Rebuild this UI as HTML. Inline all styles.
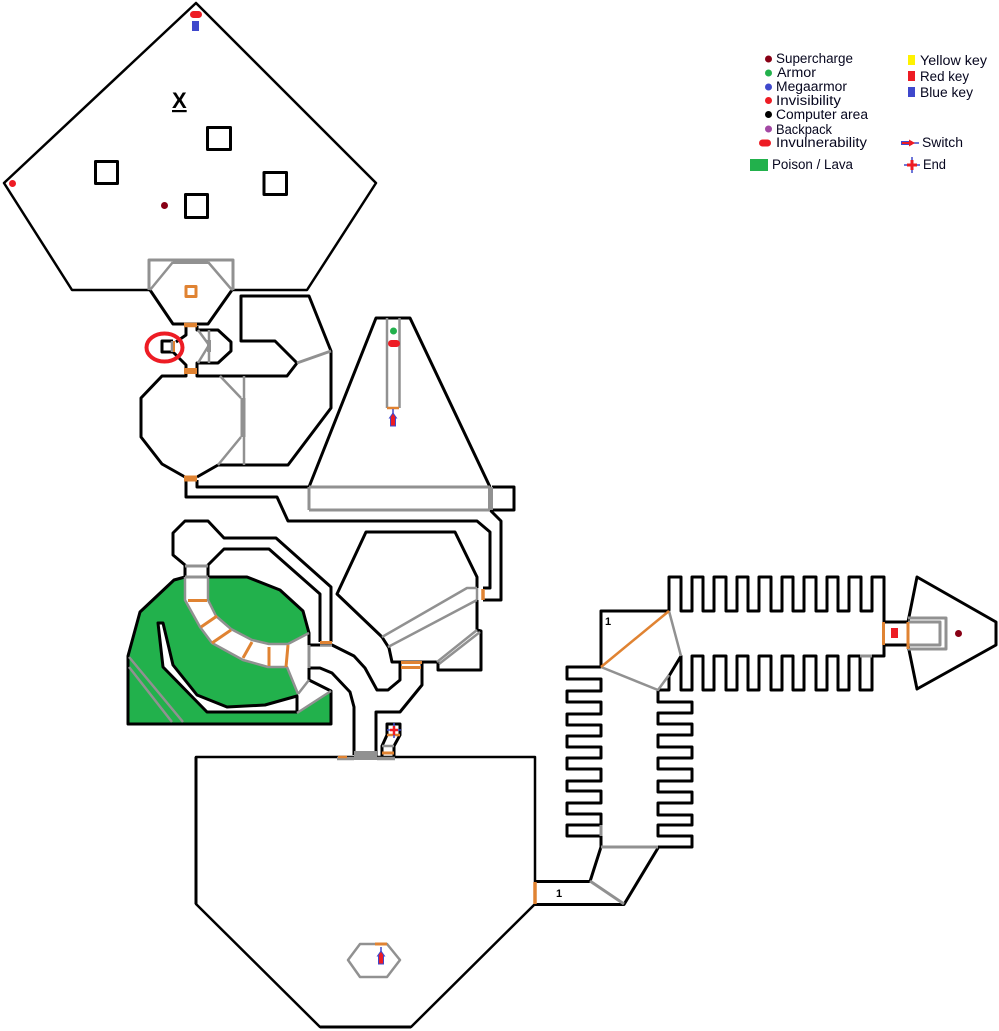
<!DOCTYPE html>
<html><head><meta charset="utf-8"><style>
html,body{margin:0;padding:0;background:#fff;width:999px;height:1031px;overflow:hidden}
svg{display:block}
text{font-family:"Liberation Sans",sans-serif;font-size:13.5px;fill:#06061e}
</style></head><body>
<svg width="999" height="1031" viewBox="0 0 999 1031" xmlns="http://www.w3.org/2000/svg">
<rect width="999" height="1031" fill="#fff"/>
<!-- green area -->
<path d="M128 656L140 612L174 580L185 577H247L280 590L303 611L309 633V680L331 691V724H128Z" fill="#22b14c"/>
<path d="M185 577H208V600L216 616L231 629L252 640L269 644H288L309 633V680L331 691L297 713L298 694L287 667H268L243 660L212 643L200 627L185 600Z" fill="#fff"/>
<path d="M158 623H163L173 665L197 695L227 707L265 705L297 696V712H207L163 667Z" fill="#fff"/>

<g fill="none" stroke="#000" stroke-width="3" stroke-linejoin="round">
<!-- top pentagon -->
<path d="M150 290H72L4 183L196 3L376 183L307 290H233" stroke-width="2.500"/>
<path d="M150 290L173 324H208L232 290"/>
<rect x="207.500" y="127.500" width="23" height="22"/>
<rect x="95.500" y="161.500" width="22" height="22"/>
<rect x="264" y="172.500" width="22.500" height="22"/>
<rect x="185.500" y="194.500" width="22" height="23"/>
<!-- junction + octagon -->
<path d="M186 326V335L176 342M173 341H162V352H173L186 365V376H162L141 398V437L162 464L185 477"/>
<path d="M197 326V330H218L231 342V351L218 363H197V376H287L297 363L275 341H241V296H309L331 351V408L288 465H218L197 477"/>
<!-- corridors from octagon -->
<path d="M186 480V497H277L288 521H477L490 532V588H483"/>
<path d="M197 480V487H309"/>
<path d="M309 487L376 318H410L490 487"/>
<path d="M492 487H514V510H490L501 521V600H483"/>
<!-- mid room -->
<path d="M477 588V577L455 532H366L337 594L382 637L389 648L392 662H400V680L388 690H377L365 668L354 656L332 645H309"/>
<path d="M477 600V630L481 631V670H438V662H400M422 662V685L400 712H376V757"/>
<!-- upper-left small room & pipes -->
<path d="M185 578V565L173 555V533L185 521H208L224 538H276L331 587V642"/>
<path d="M208 578V565L224 549H269L320 594V642"/>
<!-- green outline -->
<path d="M185 577L174 580L140 612L128 656V724H331V691L309 680V668M208 577H247L280 590L303 611L309 633V645"/>
<path d="M309 668H320L332 673L350 692L354 707V755"/>
<path d="M158 623H163L173 665L197 695L227 707L265 705L297 696V712H207L163 667Z"/>
<!-- small end room -->
<path d="M387 735V724H400V735L394 746V757M387 735L382 746V757"/>
<!-- big room -->
<path d="M196 757V904L320 1027H411L535 904V757Z" stroke-width="2.500"/>
<path d="M196 757V904" stroke-width="3"/>
<path d="M320 1027H411" stroke-width="3"/>
<path d="M535 881.500H590L601 847M535 904.500H624L658 848"/>
<!-- left comb -->
<path d="M601 667V611H669M601 667H567V679H601V691H567V702H601V714H567V725H601V736H567V747H601V758H567V769H601V781H567V791H601V803H567V814H601V825H567V836H601M601 836V847"/>
<!-- right comb -->
<path d="M658 690V702H692V713H658V724H692V735H658V747H692V758H658V769H692V781H658V792H692V803H658V815H692V825H658V836H692V847H658"/>
<!-- top comb -->
<path d="M669 611V577H681V611H692V577H703V611H714V577H726V611H737V577H748V611H759V577H771V611H782V577H793V611H804V577H816V611H827V577H838V611H849V577H861V611H872V577H884V622H908"/>
<!-- lower comb -->
<path d="M658 690H669V675M669 676L681 656V690H692V656H703V690H714V656H726V690H737V656H748V690H759V656H771V690H782V656H793V690H804V656H816V690H827V656H838V690H849V656H860V690H872V656M872 656H884V645H908"/>
<!-- arrow room -->
<path d="M908 622L917 577L996 622V645L917 689L908 645"/>
</g>

<g fill="none" stroke="#919191" stroke-width="2.500" stroke-linejoin="round">
<path d="M129 657L183 722M129 667L172 722"/>
<!-- top hex door -->
<path d="M149 290V260H233V290" stroke-width="3"/>
<path d="M173 262L150 290M208 262L232 290"/>
<path d="M173 261.500H208" stroke-width="5"/>
<!-- junction -->
<path d="M198 330L209 345L198 363M209 330V363"/>
<path d="M209 340V352" stroke-width="4"/>
<path d="M172 341V352"/>
<path d="M297 363L331 351" stroke-width="3"/>
<path d="M220 376L241 398M241 437L218 465"/>
<path d="M244 376V465"/>
<path d="M243 398V437" stroke-width="5"/>
<!-- triangle room -->
<path d="M387 318V408M399.500 318V408"/>
<path d="M309 487H490M309 510H490M309 487V510" stroke-width="3"/>
<path d="M490.500 487V510" stroke-width="5"/>
<!-- mid room -->
<path d="M382 637L467 588H477M388 647L477 600M477 588V600"/>
<path d="M437 662L477 630M439 664L480 632"/>
<!-- corridor -->
<path d="M185 566H208M185 577H208" stroke-width="3"/>
<path d="M185 577V600L200 627L212 643L243 660L268 667H287L298 694M208 577V600L216 616L231 629L252 640L269 644H288L309 633"/>
<path d="M309 645V668" stroke-width="3"/>
<path d="M298 694L309 680M331 691L297 713"/>
<path d="M320 645.500H332" stroke-width="2.500"/>
<!-- lower doors -->
<path d="M337 758.500H354M377 758.500H395" stroke-width="3.500"/>
<path d="M382 746H394"/>
<rect x="354" y="751" width="23" height="9" fill="#919191" stroke="none"/>
<!-- right rooms -->
<path d="M590 881L624 904M601 847H658" stroke-width="3"/>
<path d="M601 825V836" stroke-width="3"/>
<path d="M601 667L658 690L669 675M669 611L681 656"/>
<path d="M860 656H872" stroke-width="3"/>
<path d="M908 618H946V649H908M908 622H940V645H908" stroke-width="3"/>
<!-- hex -->
<path d="M348 960L360 944H387L400 960L387 977H360Z"/>
</g>

<!-- orange -->
<g fill="none" stroke="#e08332" stroke-width="3" stroke-linejoin="round">
<rect x="186" y="286.500" width="10" height="10"/>
<path d="M184 325H197" stroke-width="4.500"/>
<path d="M184 371H197" stroke-width="6"/>
<path d="M184 478.500H197" stroke-width="6"/>
<path d="M174 341V352" stroke-width="2"/>
<path d="M387 408H399" stroke-width="2.500"/>
<path d="M483 589V600" stroke-width="3.500"/>
<path d="M188 600.500H207"/>
<path d="M201 627L217 616M212 643L231 630M243 658L252 642"/>
<path d="M269 647V666M288 645L286 667"/>
<path d="M320 642.500H332"/>
<path d="M401 662.500H422M401 667.500H421"/>
<path d="M338 757H347" stroke-width="2.500"/>
<path d="M382 753H394"/>
<path d="M387 735H400" stroke-width="2.500"/>
<path d="M535 882V904" stroke-width="3.500"/>
<path d="M601 667L669 611" stroke-width="2.500"/>
<path d="M883.500 622V645M908 622V649" stroke-width="3"/>
<path d="M375 944H387" stroke-width="3"/>
</g>

<!-- items -->
<ellipse cx="164.500" cy="347.500" rx="18" ry="14" fill="none" stroke="#ed1c24" stroke-width="4"/>
<rect x="190" y="11" width="12" height="7" rx="3.500" fill="#ed1c24"/>
<rect x="192" y="21" width="7" height="10" fill="#3f48cc"/>
<circle cx="12.500" cy="183.500" r="3.500" fill="#ed1c24"/>
<circle cx="164.500" cy="205.500" r="3.500" fill="#880015"/>
<circle cx="393.500" cy="331" r="3.500" fill="#22b14c"/>
<rect x="388" y="340" width="12" height="7" rx="3.500" fill="#ed1c24"/>
<rect x="891" y="628" width="7" height="10" fill="#ed1c24"/>
<circle cx="958.500" cy="633.500" r="3.500" fill="#880015"/>

<!-- switches -->
<g>
<path d="M393 409V416M381 947V954" stroke="#3f48cc" stroke-width="1.500"/>
<path d="M393 413L396.500 418H395.500V426H390.500V418H389.500Z" fill="#ed1c24" stroke="#3f48cc"/>
<path d="M381 951L384.500 956H383.500V964H378.500V956H377.500Z" fill="#ed1c24" stroke="#3f48cc"/>
<path d="M901 143H912" stroke="#3f48cc" stroke-width="4"/>
<path d="M912 143H919" stroke="#3f48cc" stroke-width="1.500"/>
<path d="M902 143H912" stroke="#ed1c24" stroke-width="2"/>
<path d="M909 139.500L915 143L909 146.500Z" fill="#ed1c24"/>
</g>

<!-- end markers -->
<g>
<path d="M394 723V738M387 730H401" stroke="#3f48cc" stroke-width="1.500"/>
<path d="M394 726V735M390 730H398" stroke="#ed1c24" stroke-width="2.500"/>
<path d="M912 157V173M904 165H920" stroke="#3f48cc" stroke-width="1.500"/>
<path d="M912 160V170M907 165H917" stroke="#ed1c24" stroke-width="3"/>
</g>

<!-- labels -->
<text x="172" y="108" style="font-size:22px;font-weight:bold;fill:#000;text-decoration:underline">X</text>
<text x="605" y="625" style="font-size:11px;font-weight:bold;fill:#000">1</text>
<text x="556" y="897" style="font-size:11px;font-weight:bold;fill:#000">1</text>

<!-- legend -->
<circle cx="768.500" cy="59" r="3.500" fill="#880015"/>
<circle cx="768.500" cy="73" r="3.500" fill="#22b14c"/>
<circle cx="768.500" cy="87" r="3.500" fill="#3f48cc"/>
<circle cx="768.500" cy="100.500" r="3.500" fill="#ed1c24"/>
<circle cx="768.500" cy="114.500" r="3.500" fill="#000"/>
<circle cx="768.500" cy="129" r="3.500" fill="#a349a4"/>
<rect x="759" y="139.500" width="12" height="7" rx="3.500" fill="#ed1c24"/>
<rect x="750" y="159" width="18" height="12" fill="#22b14c"/>
<rect x="908" y="55" width="7" height="10" fill="#fff200"/>
<rect x="908" y="71" width="7" height="10" fill="#ed1c24"/>
<rect x="908" y="87" width="7" height="10" fill="#3f48cc"/>
<text x="776" y="63" textLength="77" lengthAdjust="spacingAndGlyphs">Supercharge</text>
<text x="777" y="77" textLength="39" lengthAdjust="spacingAndGlyphs">Armor</text>
<text x="776" y="91" textLength="71" lengthAdjust="spacingAndGlyphs">Megaarmor</text>
<text x="776" y="105" textLength="65" lengthAdjust="spacingAndGlyphs">Invisibility</text>
<text x="776" y="119" textLength="92" lengthAdjust="spacingAndGlyphs">Computer area</text>
<text x="776" y="134" textLength="56" lengthAdjust="spacingAndGlyphs">Backpack</text>
<text x="776" y="147" textLength="91" lengthAdjust="spacingAndGlyphs">Invulnerability</text>
<text x="772" y="169" textLength="81" lengthAdjust="spacingAndGlyphs">Poison / Lava</text>
<text x="920" y="65" textLength="67" lengthAdjust="spacingAndGlyphs">Yellow key</text>
<text x="920" y="81" textLength="49" lengthAdjust="spacingAndGlyphs">Red key</text>
<text x="920" y="97" textLength="53" lengthAdjust="spacingAndGlyphs">Blue key</text>
<text x="922" y="147" textLength="41" lengthAdjust="spacingAndGlyphs">Switch</text>
<text x="923" y="169" textLength="23" lengthAdjust="spacingAndGlyphs">End</text>
</svg>
</body></html>
